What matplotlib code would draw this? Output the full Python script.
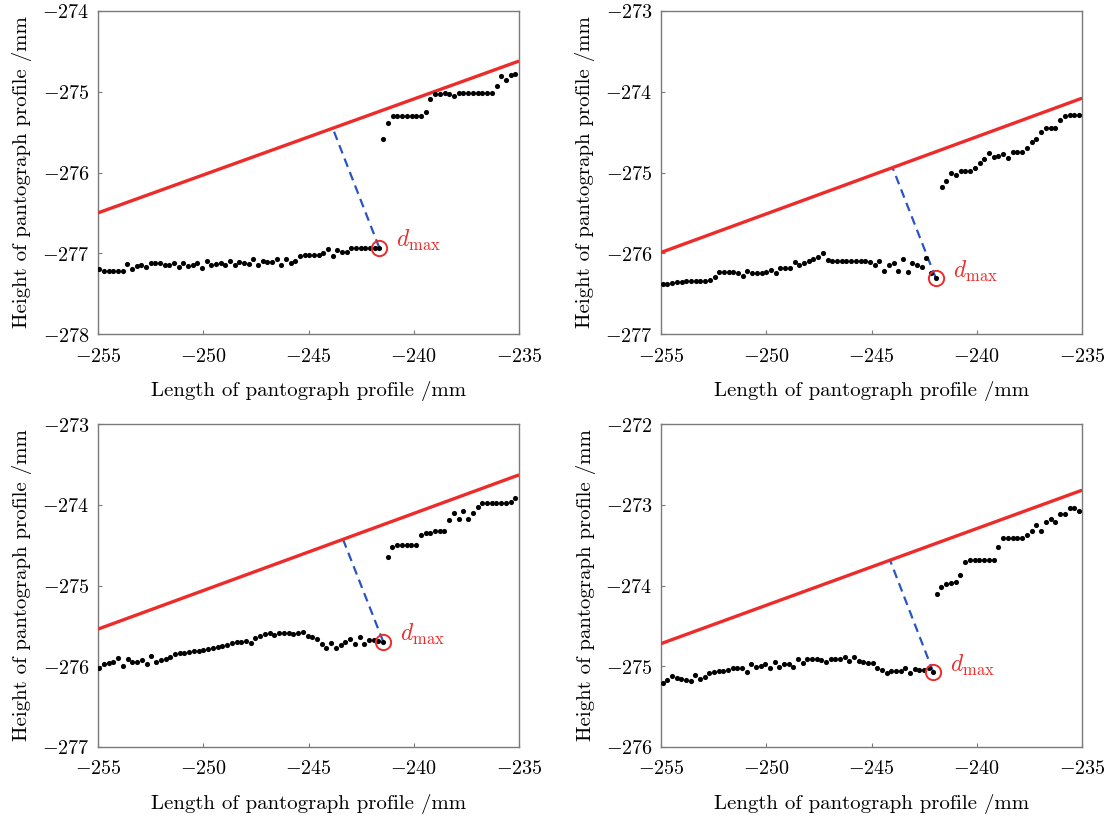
import numpy as np
import matplotlib
matplotlib.use("Agg")
import matplotlib.pyplot as plt
from matplotlib.ticker import FixedLocator, FuncFormatter

plt.rcParams['mathtext.fontset'] = 'cm'
plt.rcParams['axes.formatter.use_mathtext'] = True

# ---------------- data ----------------
# Panel 1
p1_seg1_x = (-254.94, -241.64)
p1_seg1_y = [-277.19, -277.22, -277.22, -277.22, -277.22, -277.22, -277.13, -277.20, -277.16, -277.15,
             -277.17, -277.12, -277.12, -277.12, -277.14, -277.14, -277.12, -277.17, -277.12, -277.16,
             -277.14, -277.12, -277.18, -277.10, -277.15, -277.13, -277.12, -277.14, -277.09, -277.15,
             -277.11, -277.12, -277.13, -277.07, -277.15, -277.09, -277.11, -277.11, -277.07, -277.14,
             -277.07, -277.12, -277.09, -277.03, -277.02, -277.02, -277.02, -277.02, -277.00, -276.95,
             -277.03, -276.96, -276.99, -276.99, -276.93, -276.93, -276.93, -276.93, -276.93, -276.93,
             -276.93]
p1_seg2_x = (-241.45, -235.17)
p1_seg2_y = [-275.58, -275.39, -275.30, -275.30, -275.30, -275.30, -275.30, -275.30, -275.30, -275.25,
             -275.09, -275.03, -275.03, -275.02, -275.03, -275.05, -275.02, -275.02, -275.02, -275.02,
             -275.02, -275.02, -275.02, -275.02, -274.93, -274.80, -274.85, -274.79, -274.78]
p1_line = (-276.50, -274.62)
p1_foot_x = -243.85

# Panel 2
p2_seg1_x = (-254.92, -241.94)
p2_seg1_y = [-276.385, -276.381, -276.373, -276.356, -276.352, -276.344, -276.344, -276.340, -276.340, -276.340,
             -276.331, -276.290, -276.228, -276.228, -276.228, -276.228, -276.240, -276.278, -276.220, -276.240,
             -276.240, -276.240, -276.232, -276.207, -276.240, -276.187, -276.179, -276.179, -276.113, -276.145,
             -276.125, -276.092, -276.071, -276.042, -276.001, -276.083, -276.096, -276.096, -276.096, -276.096,
             -276.096, -276.096, -276.096, -276.096, -276.104, -276.145, -276.096, -276.220, -276.145, -276.125,
             -276.220, -276.075, -276.228, -276.125, -276.145, -276.166, -276.063, -276.240, -276.311]
p2_seg2_x = (-241.67, -235.14)
p2_seg2_y = [-275.184, -275.101, -275.010, -275.031, -274.981, -274.981, -274.981, -274.940, -274.886, -274.833,
             -274.763, -274.804, -274.792, -274.775, -274.825, -274.750, -274.750, -274.750, -274.701, -274.626,
             -274.585, -274.502, -274.453, -274.453, -274.445, -274.350, -274.300, -274.288, -274.288, -274.288]
p2_line = (-275.99, -274.08)
p2_foot_x = -244.0

# Panel 3
p3_seg1_x = (-254.94, -241.45)
p3_seg1_y = [-276.018, -275.972, -275.956, -275.943, -275.902, -275.993, -275.914, -275.951, -275.943, -275.923,
             -275.972, -275.869, -275.943, -275.923, -275.910, -275.890, -275.852, -275.840, -275.832, -275.819,
             -275.811, -275.807, -275.799, -275.790, -275.770, -275.757, -275.749, -275.737, -275.716, -275.704,
             -275.704, -275.683, -275.708, -275.654, -275.625, -275.605, -275.592, -275.613, -275.584, -275.592,
             -275.592, -275.601, -275.592, -275.572, -275.625, -275.642, -275.667, -275.729, -275.778, -275.716,
             -275.778, -275.737, -275.704, -275.667, -275.729, -275.642, -275.729, -275.675, -275.675, -275.683,
             -275.696]
p3_seg2_x = (-241.24, -235.17)
p3_seg2_y = [-274.643, -274.519, -274.498, -274.498, -274.498, -274.498, -274.498, -274.375, -274.346, -274.354,
             -274.321, -274.321, -274.321, -274.189, -274.106, -274.181, -274.077, -274.181, -274.106, -274.032,
             -273.982, -273.982, -273.982, -273.982, -273.982, -273.982, -273.970, -273.920]
p3_line = (-275.54, -273.63)
p3_foot_x = -243.36

# Panel 4
p4_seg1_x = (-254.92, -242.06)
p4_seg1_y = [-275.203, -275.170, -275.117, -275.150, -275.162, -275.170, -275.183, -275.108, -275.158, -275.129,
             -275.088, -275.067, -275.055, -275.055, -275.046, -275.026, -275.026, -275.026, -275.067, -274.972,
             -275.005, -274.997, -274.976, -275.018, -274.951, -275.005, -274.976, -274.976, -275.005, -274.914,
             -274.956, -274.910, -274.914, -274.910, -274.923, -274.951, -274.910, -274.914, -274.910, -274.890,
             -274.935, -274.881, -274.931, -274.943, -274.956, -274.964, -275.026, -275.046, -275.079, -275.059,
             -275.059, -275.059, -275.026, -275.079, -275.038, -275.046, -275.046, -275.026, -275.075]
p4_seg2_x = (-241.90, -235.14)
p4_seg2_y = [-274.109, -274.023, -273.986, -273.973, -273.953, -273.870, -273.705, -273.684, -273.684, -273.684,
             -273.684, -273.684, -273.684, -273.519, -273.408, -273.408, -273.408, -273.408, -273.408, -273.375,
             -273.325, -273.251, -273.325, -273.210, -273.176, -273.218, -273.115, -273.115, -273.044, -273.044,
             -273.077]
p4_line = (-274.72, -272.82)
p4_foot_x = -244.12

x_ticks = [-255, -250, -245, -240, -235]
y_ticks_list = [[-278, -277, -276, -275, -274],
                [-277, -276, -275, -274, -273],
                [-277, -276, -275, -274, -273],
                [-276, -275, -274, -273, -272]]

x_label = "Length of pantograph profile /mm"
y_label = "Height of pantograph profile /mm"
dmax_label = r"$d_{\mathrm{max}}$"

panels = [
    (p1_seg1_x, p1_seg1_y, p1_seg2_x, p1_seg2_y, p1_line, p1_foot_x),
    (p2_seg1_x, p2_seg1_y, p2_seg2_x, p2_seg2_y, p2_line, p2_foot_x),
    (p3_seg1_x, p3_seg1_y, p3_seg2_x, p3_seg2_y, p3_line, p3_foot_x),
    (p4_seg1_x, p4_seg1_y, p4_seg2_x, p4_seg2_y, p4_line, p4_foot_x),
]

# ---------------- figure ----------------
W, H = 1105, 817
fig = plt.figure(figsize=(W / 100, H / 100), dpi=100)

rects = [
    (98, 11, 421, 323),
    (661, 11, 421, 323),
    (98, 424, 421, 323),
    (661, 424, 421, 323),
]

RED = '#ee2b2b'
BLUE = '#2a55c0'
SPINE = '#7a7a7a'
font = 'cmr10'

for i, (rect, pan, yt) in enumerate(zip(rects, panels, y_ticks_list)):
    l, t, w, h = rect
    ax = fig.add_axes([l / W, 1 - (t + h) / H, w / W, h / H])
    s1x, s1y, s2x, s2y, line, fx = pan
    x1 = np.linspace(s1x[0], s1x[1], len(s1y))
    x2 = np.linspace(s2x[0], s2x[1], len(s2y))

    # red fitted line
    lx = np.array([-255, -235])
    ax.plot(lx, line, color=RED, lw=2.4, zorder=3, solid_capstyle='butt')

    # dashed distance line
    fy = line[0] + (line[1] - line[0]) * (fx - lx[0]) / (lx[1] - lx[0])
    ax.plot([s1x[1], fx], [s1y[-1], fy], color=BLUE, lw=1.6, ls=(0, (4, 2.5)), zorder=2)

    ax.plot(x1, s1y, 'o', color='black', ms=3.7, mew=0, zorder=4)
    ax.plot(x2, s2y, 'o', color='black', ms=3.7, mew=0, zorder=4)

    # dmax circle
    ax.plot([s1x[1]], [s1y[-1]], 'o', mfc='none', mec=RED, ms=11, mew=1.4, zorder=5)
    ax.annotate(dmax_label, (s1x[1], s1y[-1]), xytext=(12, 5), textcoords='offset points',
                color=RED, fontsize=17, ha='left', va='center')

    ax.set_xlim(-255, -235)
    ax.set_ylim(yt[0], yt[-1])
    ax.xaxis.set_major_locator(FixedLocator(x_ticks))
    ax.yaxis.set_major_locator(FixedLocator(yt))
    fmt = FuncFormatter(lambda v, p: r"$%d$" % v if v >= 0 else r"$-%d$" % abs(v))
    ax.xaxis.set_major_formatter(fmt)
    ax.yaxis.set_major_formatter(fmt)
    ax.tick_params(direction='in', length=3, width=0.8, color=SPINE, labelsize=14.5, pad=6)
    ax.tick_params(axis='x', pad=9)
    for sp in ax.spines.values():
        sp.set_color(SPINE)
        sp.set_linewidth(1.0)

    ax.set_xlabel(x_label, fontsize=15, family=font, labelpad=11)
    ax.set_ylabel(y_label, fontsize=15, family=font, labelpad=7)

fig.savefig('out.png', dpi=100)
